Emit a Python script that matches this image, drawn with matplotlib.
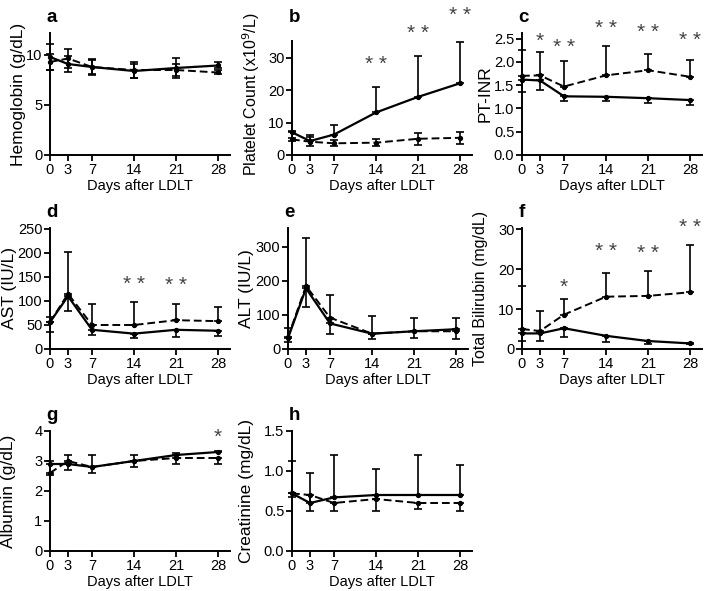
import numpy as np
import matplotlib
matplotlib.use("Agg")
import matplotlib.pyplot as plt

plt.rcParams['font.family'] = ['Liberation Sans', 'DejaVu Sans']

days = [0, 3, 7, 14, 21, 28]
xticks = [0, 3, 7, 14, 21, 28]

# panel data: mean / sd for the solid and dashed groups
hb_solid = [9.8, 9.1, 8.8, 8.4, 8.7, 8.95]
hb_solid_sd = [1.3, 0.8, 0.8, 0.7, 1.0, 0.3]
hb_dash = [9.3, 9.65, 8.8, 8.5, 8.5, 8.25]
hb_dash_sd = [0.8, 0.95, 0.7, 0.8, 0.6, 0.2]

plt_solid = [7.0, 4.3, 6.3, 13.1, 17.9, 22.1]
plt_solid_sd = [0.5, 2.0, 2.9, 8.0, 12.6, 12.8]
plt_dash = [4.8, 4.1, 3.6, 3.8, 5.0, 5.3]
plt_dash_sd = [0.5, 1.3, 0.9, 1.0, 1.8, 1.8]

inr_solid = [1.62, 1.60, 1.26, 1.25, 1.22, 1.18]
inr_solid_sd = [0.27, 0.20, 0.09, 0.10, 0.10, 0.10]
inr_dash = [1.70, 1.71, 1.47, 1.71, 1.82, 1.68]
inr_dash_sd = [0.55, 0.51, 0.55, 0.63, 0.34, 0.37]

ast_solid = [56, 110, 40, 32, 40, 38]
ast_solid_sd = [21, 30, 10, 10, 15, 11]
ast_dash = [56, 115, 50, 50, 60, 58]
ast_dash_sd = [10, 88, 43, 47, 33, 30]

alt_solid = [32, 178, 75, 45, 52, 58]
alt_solid_sd = [11, 56, 32, 17, 19, 28]
alt_dash = [35, 185, 92, 45, 52, 52]
alt_dash_sd = [26, 140, 65, 52, 40, 40]

tb_solid = [3.9, 3.9, 5.2, 3.3, 2.0, 1.4]
tb_solid_sd = [1.9, 1.9, 2.2, 1.5, 0.7, 0.2]
tb_dash = [5.0, 4.5, 8.6, 13.1, 13.3, 14.2]
tb_dash_sd = [10.8, 5.1, 4.0, 5.9, 6.3, 11.9]

alb_solid = [2.9, 2.9, 2.8, 3.0, 3.2, 3.3]
alb_solid_sd = [0.1, 0.3, 0.4, 0.2, 0.07, 0.04]
alb_dash = [2.6, 3.0, 2.8, 3.0, 3.1, 3.1]
alb_dash_sd = [0.05, 0.3, 0.2, 0.2, 0.2, 0.2]

cre_solid = [0.72, 0.60, 0.67, 0.70, 0.70, 0.70]
cre_solid_sd = [0.41, 0.38, 0.53, 0.33, 0.50, 0.38]
cre_dash = [0.72, 0.70, 0.60, 0.65, 0.60, 0.60]
cre_dash_sd = [0.05, 0.2, 0.1, 0.15, 0.08, 0.1]

# significance marks: (day, text, y)
sig_b = [(14, '* *', 28), (21, '* *', 37.5), (28, '* *', 43)]
sig_c = [(3, '*', 2.45), (7, '* *', 2.3), (14, '* *', 2.72), (21, '* *', 2.62), (28, '* *', 2.45)]
sig_d = [(14, '* *', 135), (21, '* *', 132)]
sig_f = [(7, '*', 15.5), (14, '* *', 24.5), (21, '* *', 24), (28, '* *', 30.5)]
sig_g = [(28, '*', 3.8)]

W, H = 709, 591
fig = plt.figure(figsize=(W / 100, H / 100), dpi=100)


def make_ax(x0, ytop, ybot, w=180):
    return fig.add_axes([x0 / W, 1 - ybot / H, w / W, (ybot - ytop) / H])


def panel(ax, letter, ylabel, solid, s_sd, s_dir, dash, d_sd, d_dir,
          ylim, yticks, ytl, sig=(), ytop=None, ylsize=12.5, ylx=-0.15):
    z = np.zeros(len(days))
    s_sd = np.array(s_sd)
    d_sd = np.array(d_sd)
    s_err = [s_sd if s_dir in ('down', 'both') else z,
             s_sd if s_dir in ('up', 'both') else z]
    d_err = [d_sd if d_dir in ('down', 'both') else z,
             d_sd if d_dir in ('up', 'both') else z]
    ax.errorbar(days, dash, yerr=d_err, fmt='none', ecolor='black',
                elinewidth=1.2, capsize=3, capthick=1.2, clip_on=False, zorder=3)
    ax.errorbar(days, solid, yerr=s_err, fmt='none', ecolor='black',
                elinewidth=1.2, capsize=3, capthick=1.2, clip_on=False, zorder=3)
    ax.plot(days, dash, color='black', ls=(0, (4, 2)), lw=1.4, marker='o',
            ms=2.8, clip_on=False, zorder=4)
    ax.plot(days, solid, color='black', ls='-', lw=1.6, marker='o',
            ms=2.8, clip_on=False, zorder=4)
    ax.set_xlim(0, 30)
    ax.set_ylim(*ylim)
    ax.set_xticks(xticks)
    ax.set_yticks(yticks)
    ax.set_yticklabels(ytl)
    ax.spines['top'].set_visible(False)
    ax.spines['right'].set_visible(False)
    for s in ('left', 'bottom'):
        ax.spines[s].set_linewidth(1.4)
    if ytop is not None:
        ax.spines['left'].set_bounds(0, ytop)
    ax.tick_params(direction='out', length=4, width=1.3, labelsize=10.5, pad=1.5)
    ax.set_xlabel('Days after LDLT', fontsize=10.5, labelpad=2)
    ax.set_ylabel(ylabel, fontsize=ylsize)
    ax.yaxis.set_label_coords(ylx, 0.5)
    for d, t, y in sig:
        ax.text(d, y, t, ha='center', va='center', fontsize=15,
                color='#444444', clip_on=False)
    ax.text(-0.02, 1.13, letter, transform=ax.transAxes, fontsize=13.5,
            fontweight='bold', ha='left', va='center')


ax = make_ax(50, 33, 155)
panel(ax, 'a', 'Hemoglobin (g/dL)', hb_solid, hb_solid_sd, 'both',
      hb_dash, hb_dash_sd, 'both', (0, 12.2), [0, 5, 10], ['0', '5', '10'],
      ylx=-0.135)

ax = make_ax(292, 33, 155)
panel(ax, 'b', 'Platelet Count (x10$^9$/L)', plt_solid, plt_solid_sd, 'up',
      plt_dash, plt_dash_sd, 'both', (0, 37.6), [0, 10, 20, 30],
      ['0', '10', '20', '30'], sig_b, ytop=35, ylsize=11.5, ylx=-0.165)

ax = make_ax(522, 33, 155)
panel(ax, 'c', 'PT-INR', inr_solid, inr_solid_sd, 'down',
      inr_dash, inr_dash_sd, 'up', (0, 2.62), [0, 0.5, 1.0, 1.5, 2.0, 2.5],
      ['0.0', '0.5', '1.0', '1.5', '2.0', '2.5'], sig_c, ylx=-0.165)

ax = make_ax(50, 228, 349)
panel(ax, 'd', 'AST (IU/L)', ast_solid, ast_solid_sd, 'down',
      ast_dash, ast_dash_sd, 'up', (0, 252), [0, 50, 100, 150, 200, 250],
      ['0', '50', '100', '150', '200', '250'], sig_d, ylx=-0.185)

ax = make_ax(288, 228, 349)
panel(ax, 'e', 'ALT (IU/L)', alt_solid, alt_solid_sd, 'down',
      alt_dash, alt_dash_sd, 'up', (0, 355), [0, 100, 200, 300],
      ['0', '100', '200', '300'], ylx=-0.19)

ax = make_ax(522, 228, 349)
panel(ax, 'f', 'Total Bilirubin (mg/dL)', tb_solid, tb_solid_sd, 'down',
      tb_dash, tb_dash_sd, 'up', (0, 30.3), [0, 10, 20, 30],
      ['0', '10', '20', '30'], sig_f, ylsize=11.5, ylx=-0.19)

ax = make_ax(50, 431, 551)
panel(ax, 'g', 'Albumin (g/dL)', alb_solid, alb_solid_sd, 'up',
      alb_dash, alb_dash_sd, 'down', (0, 4), [0, 1, 2, 3, 4],
      ['0', '1', '2', '3', '4'], sig_g, ylx=-0.19)

ax = make_ax(292, 431, 551)
panel(ax, 'h', 'Creatinine (mg/dL)', cre_solid, cre_solid_sd, 'up',
      cre_dash, cre_dash_sd, 'down', (0, 1.5), [0, 0.5, 1.0, 1.5],
      ['0.0', '0.5', '1.0', '1.5'], ylx=-0.21)

fig.savefig('out.png', dpi=100)
